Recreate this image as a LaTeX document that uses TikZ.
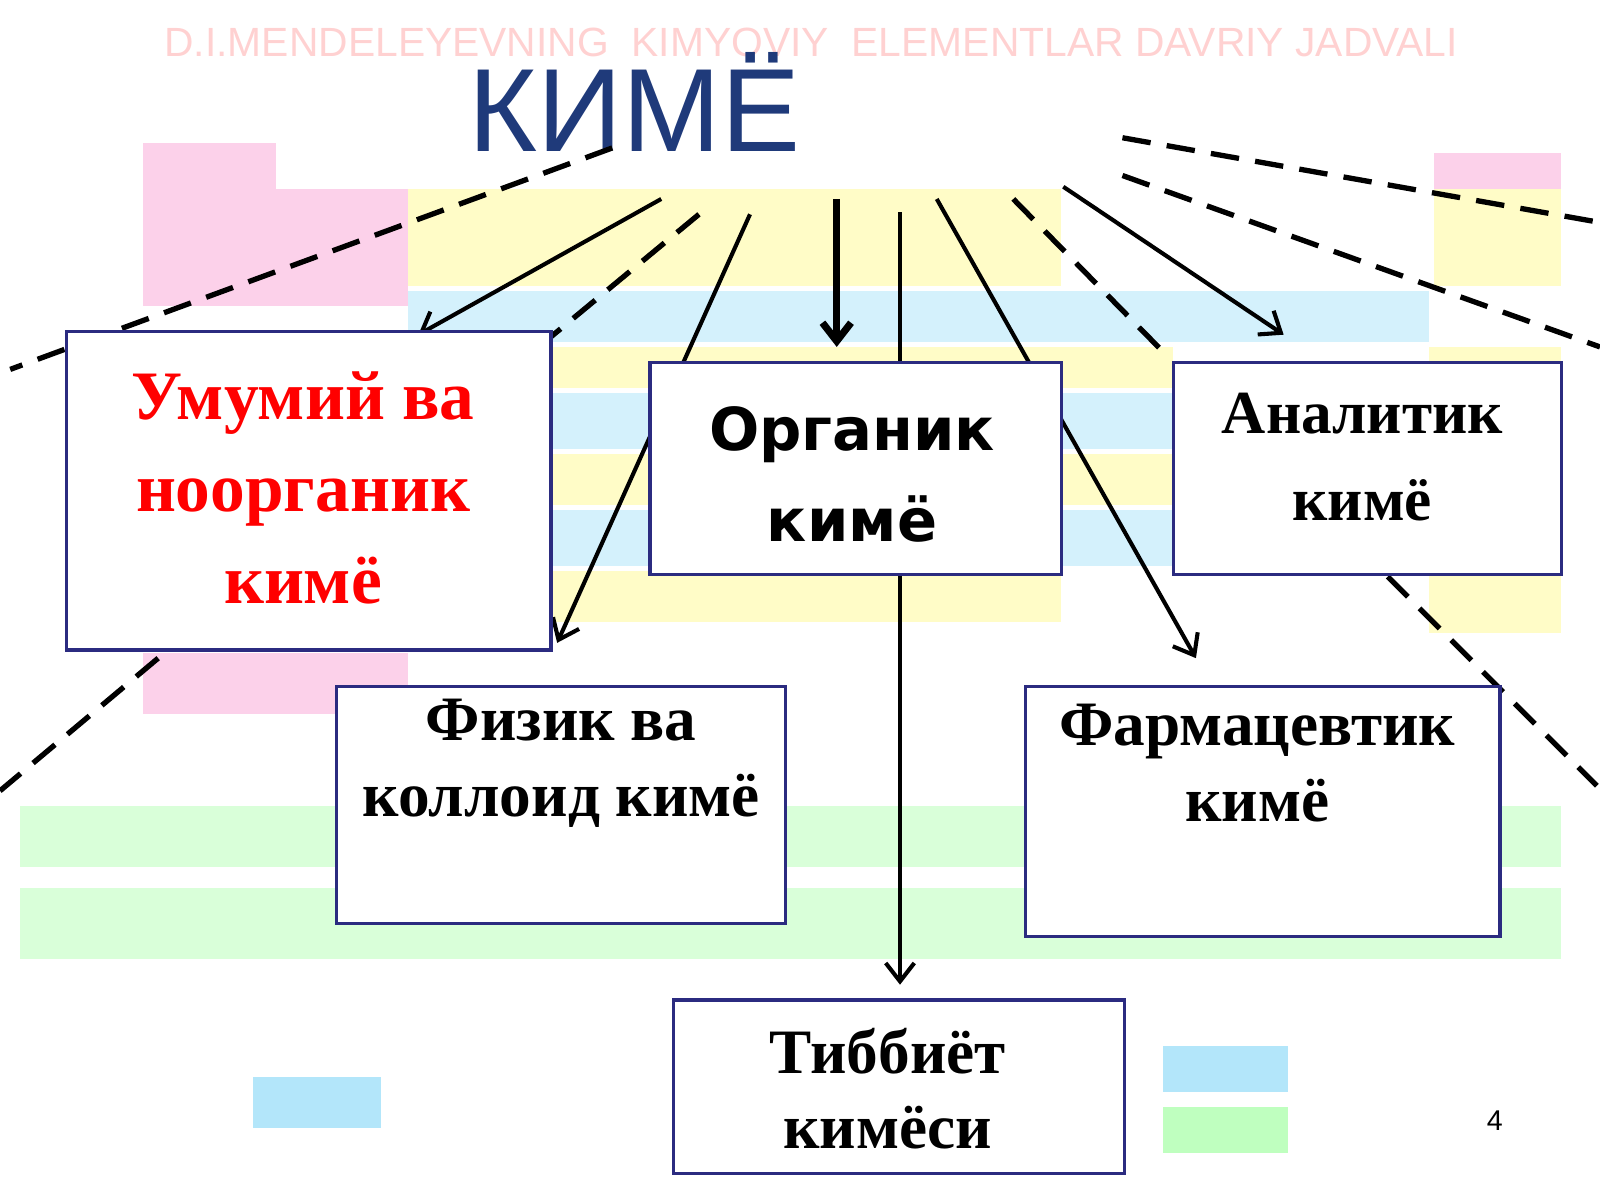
\documentclass[tikz,border=0pt]{standalone}
\usepackage{fontspec}
\setmainfont{Liberation Serif}
\newfontfamily\dvs{DejaVu Sans}
\newfontfamily\lsans{Liberation Sans}
\usetikzlibrary{arrows.meta}
\definecolor{navy}{HTML}{2B2B80}
\definecolor{titleblue}{HTML}{1F3A7A}
\begin{document}
\begin{tikzpicture}[x=0.5pt,y=-0.5pt,
  box/.style={draw=navy,line width=1.5pt,fill=white},
  lbl/.style={font=\bfseries\fontsize{31}{37}\selectfont,align=center},
  arr/.style={line width=2pt,-{Straight Barb[length=9pt,width=14pt]}},
  dsh/.style={line width=2.6pt,dash pattern=on 14pt off 8pt}]
\useasboundingbox (0,0) rectangle (1568,1176);
% faint background table
\fill[magenta!18] (140,140) rectangle (270,300);
\fill[magenta!18] (270,185) rectangle (400,300);
\fill[magenta!18] (140,640) rectangle (400,700);
\fill[yellow!22] (400,185) rectangle (1040,280);
\fill[magenta!18] (1405,150) rectangle (1530,185);
\fill[yellow!22] (1405,185) rectangle (1530,280);
\fill[cyan!17] (400,285) rectangle (1400,335);
\fill[yellow!22] (540,340) rectangle (1150,380);
\fill[cyan!17] (540,385) rectangle (1150,440);
\fill[yellow!22] (540,445) rectangle (1150,495);
\fill[cyan!17] (540,500) rectangle (1150,555);
\fill[yellow!22] (540,560) rectangle (1040,610);
\fill[yellow!22] (1400,340) rectangle (1530,620);
\fill[green!15] (20,790) rectangle (1530,850);
\fill[green!15] (20,870) rectangle (1530,940);
\fill[cyan!30] (1140,1025) rectangle (1262,1070);
\fill[green!25] (1140,1085) rectangle (1262,1130);
\fill[cyan!30] (248,1055) rectangle (373,1105);
\node[text=red!18,font=\lsans\fontsize{20}{24}\selectfont] (bgt) at (795,42) {D.I.MENDELEYEVNING\ \ KIMYOVIY\ \ ELEMENTLAR DAVRIY JADVALI};
% title
\node[text=titleblue,font=\lsans\fontsize{58}{66}\selectfont] (t) at (622,100) {КИМЁ};
% connectors
\coordinate (d1a) at (600,145); \coordinate (d1b) at (10,362);
\coordinate (d2a) at (685,210); \coordinate (d2b) at (540,330);
\coordinate (d3a) at (993,195); \coordinate (d3b) at (1140,345);
\coordinate (d4a) at (1100,135); \coordinate (d4b) at (1568,218);
\coordinate (d5a) at (1100,172); \coordinate (d5b) at (1568,340);
\coordinate (d6a) at (1360,565); \coordinate (d6b) at (1565,770);
\coordinate (d7a) at (155,645); \coordinate (d7b) at (0,775);
\foreach \i in {1,...,7} \draw[dsh] (d\i a) -- (d\i b);
\coordinate (a1) at (648,195); \coordinate (a1e) at (410,328);
\coordinate (a2) at (735,210); \coordinate (a2e) at (546,630);
\coordinate (a3) at (820,195); \coordinate (a3e) at (820,340);
\coordinate (a4) at (882,208); \coordinate (a4e) at (882,965);
\coordinate (a5) at (918,195); \coordinate (a5e) at (1172,645);
\coordinate (a6) at (1042,183); \coordinate (a6e) at (1258,328);
\draw[arr] (a1) -- (a1e);
\draw[arr] (a2) -- (a2e);
\draw[arr,line width=3.5pt] (a3) -- (a3e);
\draw[arr] (a4) -- (a4e);
\draw[arr] (a5) -- (a5e);
\draw[arr] (a6) -- (a6e);
% boxes
\draw[box] (65,325) rectangle (540,637);
\node[lbl,text=red,font=\bfseries\fontsize{34}{45}\selectfont] (b1) at (297,478) {Умумий ва\\ноорганик\\кимё};
\draw[box] (637,355) rectangle (1040,563);
\node[lbl,font=\dvs\bfseries\fontsize{29}{45}\selectfont] (b2) at (835,465) {Органик\\кимё};
\draw[box] (1150,355) rectangle (1530,563);
\node[lbl,font=\bfseries\fontsize{30}{43}\selectfont] (b3) at (1335,448) {Аналитик\\кимё};
\draw[box] (330,673) rectangle (770,905);
\node[lbl] (b4) at (550,748) {Физик ва\\коллоид кимё};
\draw[box] (1005,673) rectangle (1470,918);
\node[lbl] (b5) at (1232,748) {Фармацевтик\\кимё};
\draw[box] (660,980) rectangle (1102,1150);
\node[lbl] (b6) at (870,1067) {Тиббиёт\\кимёси};
\node[font=\lsans\fontsize{14}{16}\selectfont] (pg) at (1465,1098) {4};
\end{tikzpicture}
\end{document}
